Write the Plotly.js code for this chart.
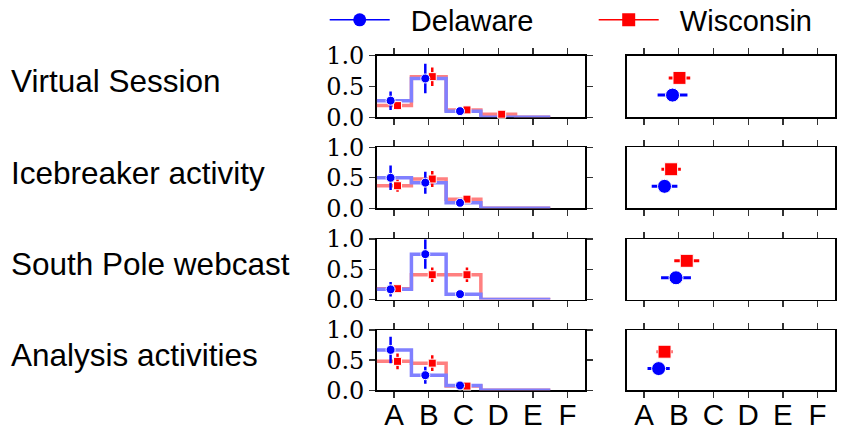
<!DOCTYPE html>
<html>
<head>
<meta charset="utf-8">
<script src="https://cdn.plot.ly/plotly-3.0.1.min.js"></script>
<style>html,body{margin:0;padding:0;background:#fff}#chart{width:851px;height:430px}</style>
</head>
<body>
<div id="chart"></div>
<script>
// ---- data ----
const categories = ['A', 'B', 'C', 'D', 'E', 'F'];
const rowLabels = ['Virtual Session', 'Icebreaker activity', 'South Pole webcast', 'Analysis activities'];
const seriesNames = ['Delaware', 'Wisconsin'];

// fraction of responses per category (bins A..E), one row per activity
const delawareFrac = [
  [0.27, 0.63, 0.10, 0.00, 0.00],
  [0.50, 0.42, 0.09, 0.00, 0.00],
  [0.17, 0.75, 0.09, 0.00, 0.00],
  [0.67, 0.25, 0.08, 0.00, 0.00]
];
const delawareErr = [
  [0.15, 0.24, 0.03, 0.00, 0.00],
  [0.20, 0.18, 0.03, 0.00, 0.00],
  [0.12, 0.24, 0.03, 0.00, 0.00],
  [0.22, 0.14, 0.03, 0.00, 0.00]
];
const wisconsinFrac = [
  [0.19, 0.66, 0.12, 0.05, 0.00],
  [0.37, 0.48, 0.15, 0.00, 0.00],
  [0.18, 0.41, 0.41, 0.00, 0.00],
  [0.48, 0.45, 0.07, 0.00, 0.00]
];
const wisconsinErr = [
  [0.07, 0.15, 0.05, 0.03, 0.00],
  [0.10, 0.13, 0.04, 0.00, 0.00],
  [0.05, 0.12, 0.12, 0.00, 0.00],
  [0.13, 0.13, 0.03, 0.00, 0.00]
];
// mean category position (A = 0) with spread
const delawareMean = [0.82, 0.59, 0.92, 0.42];
const delawareMeanErr = [0.43, 0.37, 0.43, 0.32];
const wisconsinMean = [1.02, 0.78, 1.23, 0.59];
const wisconsinMeanErr = [0.31, 0.28, 0.36, 0.23];

// ---- layout helpers ----
const W = 851, H = 430;
const px2x = p => p / W;
const px2y = p => 1 - p / H;
const leftDom = [px2x(376.7), px2x(585)];
const rightDom = [px2x(626.7), px2x(835)];
const rowPx = [[55.7, 117.3], [147.3, 208.3], [239, 299.6], [330, 390.3]];

const BLUE = 'rgb(0,0,255)', RED = 'rgb(255,0,0)';
const BLUE_STEP = 'rgb(128,128,255)', RED_STEP = 'rgb(255,128,128)';
const sans = 'Liberation Sans, Arial, Helvetica, sans-serif';
const serif = 'DejaVu Serif, serif';
const NB = '\u00a0\u00a0';

const catIdx = categories.map((c, i) => i);
const nb = delawareFrac[0].length;
const edges = [];
for (let i = 0; i <= nb; i++) edges.push(i - 0.5);
const stepY = v => v.concat([v[v.length - 1]]);
const ptsY = v => v.map(a => (a > 0 ? a : null));

const traces = [];
const layout = {
  width: W, height: H,
  margin: {l: 0, r: 0, t: 0, b: 0, autoexpand: false},
  paper_bgcolor: '#fff', plot_bgcolor: '#fff',
  showlegend: true,
  legend: {
    orientation: 'h', x: px2x(324.7), y: px2y(20), xanchor: 'left', yanchor: 'middle',
    font: {family: sans, size: 29, color: '#000'},
    entrywidth: 194, entrywidthmode: 'pixels', itemwidth: 60,
    bgcolor: 'rgba(0,0,0,0)', borderwidth: 0
  },
  annotations: []
};

for (let r = 0; r < 4; r++) {
  const li = r + 1, ri = r + 5;
  const lx = 'x' + li, ly = 'y' + li, rx = 'x' + ri, ry = 'y' + ri;
  const dom = [px2y(rowPx[r][1]), px2y(rowPx[r][0])];
  const bottom = r === 3;

  const xCommon = {
    range: [-0.5, 5.5], tickvals: catIdx, ticktext: categories,
    ticks: 'outside', ticklen: 6, tickwidth: 1.3, tickcolor: '#333',
    showline: true, linecolor: '#000', linewidth: 1.5, mirror: 'allticks',
    showgrid: false, zeroline: false, showticklabels: bottom,
    tickfont: {family: sans, size: 29.5, color: '#000'}, fixedrange: true,
    ticklabelstandoff: -8,
    layer: 'below traces'
  };
  layout['xaxis' + li] = Object.assign({}, xCommon, {domain: leftDom, anchor: ly});
  layout['xaxis' + ri] = Object.assign({}, xCommon, {domain: rightDom, anchor: ry});
  layout['yaxis' + li] = {
    domain: dom, anchor: lx, range: [0, 1], tickvals: [0, 0.5, 1], ticktext: ['0.0', '0.5', '1.0'],
    ticks: 'outside', ticklen: 6, tickwidth: 1.3, tickcolor: '#333',
    showline: true, linecolor: '#000', linewidth: 1.5, mirror: 'allticks',
    showgrid: false, zeroline: false, tickfont: {family: serif, size: 24, color: '#000'},
    fixedrange: true, layer: 'below traces'
  };
  layout['yaxis' + ri] = {
    domain: dom, anchor: rx, range: [0, 1], showticklabels: false, ticks: '',
    showline: true, linecolor: '#000', linewidth: 1.5, mirror: true,
    showgrid: false, zeroline: false, fixedrange: true
  };

  // step outlines
  traces.push({x: edges, y: stepY(wisconsinFrac[r]), xaxis: lx, yaxis: ly, mode: 'lines',
    line: {shape: 'hv', color: RED_STEP, width: 3.5}, showlegend: false, hoverinfo: 'skip'});
  traces.push({x: edges, y: stepY(delawareFrac[r]), xaxis: lx, yaxis: ly, mode: 'lines',
    line: {shape: 'hv', color: BLUE_STEP, width: 3.5}, showlegend: false, hoverinfo: 'skip'});
  // points with error bars
  traces.push({x: wisconsinFrac[r].map((v, i) => i + 0.1), y: ptsY(wisconsinFrac[r]), xaxis: lx, yaxis: ly,
    mode: 'markers', marker: {symbol: 'square', size: 8, color: RED, line: {color: '#fff', width: 1}},
    error_y: {type: 'data', array: wisconsinErr[r], width: 0, thickness: 2.5, color: RED},
    showlegend: false, cliponaxis: false});
  traces.push({x: delawareFrac[r].map((v, i) => i - 0.1), y: ptsY(delawareFrac[r]), xaxis: lx, yaxis: ly,
    mode: 'markers', marker: {symbol: 'circle', size: 9, color: BLUE, line: {color: '#fff', width: 1}},
    error_y: {type: 'data', array: delawareErr[r], width: 0, thickness: 2.5, color: BLUE},
    showlegend: false, cliponaxis: false});
  // means
  traces.push({x: [wisconsinMean[r]], y: [0.64], xaxis: rx, yaxis: ry, mode: 'markers',
    marker: {symbol: 'square', size: 13, color: RED, line: {color: '#fff', width: 1}},
    error_x: {type: 'data', array: [wisconsinMeanErr[r]], width: 0, thickness: 3, color: RED},
    showlegend: false});
  traces.push({x: [delawareMean[r]], y: [0.36], xaxis: rx, yaxis: ry, mode: 'markers',
    marker: {symbol: 'circle', size: 14, color: BLUE, line: {color: '#fff', width: 1}},
    error_x: {type: 'data', array: [delawareMeanErr[r]], width: 0, thickness: 3, color: BLUE},
    showlegend: false});

  layout.annotations.push({
    text: rowLabels[r], xref: 'paper', yref: 'paper', x: px2x(9), xanchor: 'left',
    y: px2y((rowPx[r][0] + rowPx[r][1]) / 2 - 5), yanchor: 'middle', showarrow: false,
    font: {family: sans, size: 31.5, color: '#000'}
  });
}

// legend entries
traces.push({x: [null], y: [null], name: NB + seriesNames[0], mode: 'lines+markers', xaxis: 'x1', yaxis: 'y1',
  line: {color: BLUE, width: 1.5}, marker: {symbol: 'circle', size: 13, color: BLUE}});
traces.push({x: [null], y: [null], name: NB + seriesNames[1], mode: 'lines+markers', xaxis: 'x1', yaxis: 'y1',
  line: {color: RED, width: 1.5}, marker: {symbol: 'square', size: 13, color: RED}});

Plotly.newPlot('chart', traces, layout, {staticPlot: true, displayModeBar: false});
</script>
</body>
</html>
